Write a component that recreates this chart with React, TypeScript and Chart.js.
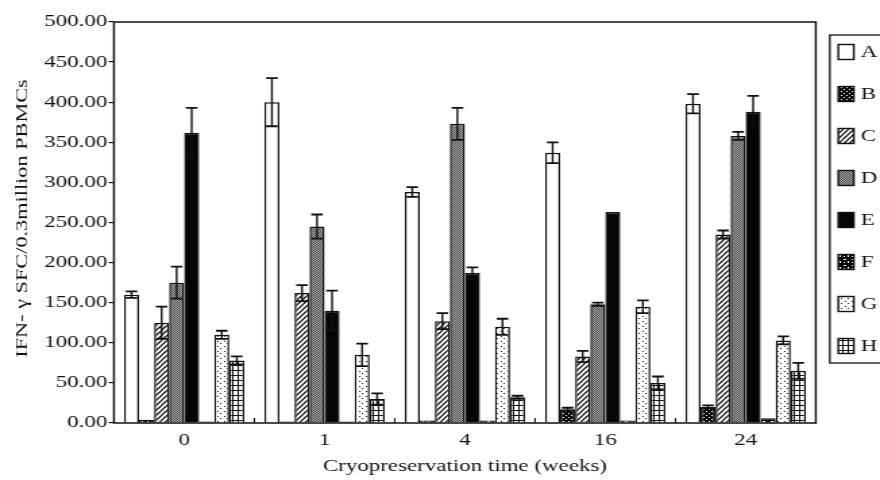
import React, { useEffect, useRef } from 'react';
import { Chart, registerables } from 'chart.js';

Chart.register(...registerables);

// ---------- data ----------
const categories = ['0', '1', '4', '16', '24'];
const seriesNames = ['A', 'B', 'C', 'D', 'E', 'F', 'G', 'H'];

const valuesA = [160, 400, 288, 337, 398];
const valuesB = [4, 2, 3, 17, 20];
const valuesC = [125, 162, 127, 83, 235];
const valuesD = [175, 245, 373, 148, 358];
const valuesE = [362, 140, 187, 263, 388];
const valuesF = [2, 2, 3, 3, 6];
const valuesG = [110, 85, 120, 145, 103];
const valuesH = [78, 30, 32, 50, 65];

const errorsA = [4, 30, 6, 13, 12];
const errorsB = [0, 0, 0, 2, 2];
const errorsC = [20, 10, 10, 7, 5];
const errorsD = [20, 15, 20, 2, 5];
const errorsE = [31, 25, 7, 0, 20];
const errorsF = [0, 0, 0, 0, 0];
const errorsG = [5, 14, 10, 8, 5];
const errorsH = [5, 7, 2, 8, 10];

const yMin = 0;
const yMax = 500;
const yStep = 50;

const xTitle = 'Cryopreservation time (weeks)';
const yTitle = 'IFN- γ SFC/0.3million PBMCs';

// ---------- layout (the reference uses a horizontally wide font) ----------
const STRETCH = 1.35;
const OUT_W = 880;
const OUT_H = 480;
const CW = Math.round(OUT_W / STRETCH);
const FONT = '"Liberation Serif", "Times New Roman", serif';
const INK = '#111';

function tile(w: number, h: number, draw: (c: CanvasRenderingContext2D) => void) {
  const cv = document.createElement('canvas');
  cv.width = w;
  cv.height = h;
  const c = cv.getContext('2d') as CanvasRenderingContext2D;
  draw(c);
  return (document.createElement('canvas').getContext('2d') as CanvasRenderingContext2D).createPattern(cv, 'repeat') as CanvasPattern;
}

function makeFills(): (string | CanvasPattern)[] {
  const A = '#ffffff';
  const B = tile(4, 4, (c) => {
    c.fillStyle = '#0a0a0a';
    c.fillRect(0, 0, 4, 4);
    c.fillStyle = '#ffffff';
    c.fillRect(1, 1, 1, 1);
    c.fillRect(3, 3, 1, 1);
  });
  const C = tile(4, 5, (c) => {
    c.fillStyle = '#ffffff';
    c.fillRect(0, 0, 4, 5);
    c.strokeStyle = '#000';
    c.lineWidth = 1.1;
    for (const dx of [-4, 0, 4]) {
      c.beginPath();
      c.moveTo(dx - 1, 5 + 1.25);
      c.lineTo(dx + 5, -1.25);
      c.stroke();
    }
  });
  const D = tile(2, 2, (c) => {
    c.fillStyle = '#b0b0b0';
    c.fillRect(0, 0, 2, 2);
    c.fillStyle = '#444';
    c.fillRect(0, 0, 1, 1);
    c.fillRect(1, 1, 1, 1);
  });
  const E = '#050505';
  const F = tile(6, 6, (c) => {
    c.fillStyle = '#050505';
    c.fillRect(0, 0, 6, 6);
    c.fillStyle = '#ffffff';
    c.fillRect(1, 1, 2, 1);
    c.fillRect(4, 3, 1, 2);
    c.fillRect(1, 4, 1, 1);
  });
  const G = tile(5, 5, (c) => {
    c.fillStyle = '#ffffff';
    c.fillRect(0, 0, 5, 5);
    c.fillStyle = '#222';
    c.fillRect(1, 1, 1, 1);
    c.fillRect(3, 3, 1, 1);
  });
  const H = tile(4, 5, (c) => {
    c.fillStyle = '#ffffff';
    c.fillRect(0, 0, 4, 5);
    c.fillStyle = '#111';
    c.fillRect(0, 0, 4, 1);
    c.fillRect(0, 0, 1, 5);
  });
  return [A, B, C, D, E, F, G, H];
}

const allValues = [valuesA, valuesB, valuesC, valuesD, valuesE, valuesF, valuesG, valuesH];
const allErrors = [errorsA, errorsB, errorsC, errorsD, errorsE, errorsF, errorsG, errorsH];

const framePlugin = {
  id: 'frameAndErrors',
  afterDatasetsDraw(chart: any) {
    const { ctx, chartArea, scales } = chart;
    const y = scales.y;
    const x = scales.x;
    ctx.save();
    // error bars
    ctx.strokeStyle = INK;
    chart.data.datasets.forEach((ds: any, di: number) => {
      const meta = chart.getDatasetMeta(di);
      const errs = allErrors[di];
      meta.data.forEach((bar: any, i: number) => {
        const e = errs[i];
        if (!e) return;
        const v = ds.data[i];
        const yt = y.getPixelForValue(v + e);
        const yb = y.getPixelForValue(Math.max(v - e, 0));
        const cx = bar.x;
        const hw = 4.3;
        ctx.lineWidth = 1.4;
        ctx.beginPath();
        ctx.moveTo(cx, yb);
        ctx.lineTo(cx, yt);
        ctx.stroke();
        ctx.lineWidth = 1.8;
        ctx.beginPath();
        ctx.moveTo(cx - hw, yt);
        ctx.lineTo(cx + hw, yt);
        ctx.moveTo(cx - hw, yb);
        ctx.lineTo(cx + hw, yb);
        ctx.stroke();
      });
    });
    // frame
    ctx.lineWidth = 1.5;
    ctx.strokeRect(chartArea.left, chartArea.top, chartArea.right - chartArea.left, chartArea.bottom - chartArea.top);
    // small ticks between categories
    ctx.lineWidth = 1.1;
    for (let i = 0; i < categories.length - 1; i++) {
      const bx = (x.getPixelForValue(i) + x.getPixelForValue(i + 1)) / 2;
      ctx.beginPath();
      ctx.moveTo(bx, chartArea.bottom);
      ctx.lineTo(bx, chartArea.bottom - 5);
      ctx.stroke();
    }
    ctx.restore();
  },
  afterDraw(chart: any) {
    const { ctx } = chart;
    // y axis title, in the same wide lettering as the rest of the text
    ctx.save();
    ctx.translate(22 / STRETCH, 218.5);
    ctx.scale(1 / STRETCH, STRETCH);
    ctx.rotate(-Math.PI / 2);
    ctx.font = `16.5px ${FONT}`;
    ctx.fillStyle = INK;
    ctx.textAlign = 'center';
    ctx.textBaseline = 'middle';
    ctx.fillText(yTitle, 0, 0);
    ctx.restore();

    // legend
    ctx.save();
    const left = 830 / STRETCH;
    const top = 35;
    const bottom = 363;
    ctx.strokeStyle = INK;
    ctx.lineWidth = 1.3;
    ctx.strokeRect(left, top, CW + 10 - left, bottom - top);
    const sx = 838.5 / STRETCH;
    const sw = 15.5 / STRETCH;
    const sh = 15;
    const tx = 861 / STRETCH;
    ctx.font = `17px ${FONT}`;
    ctx.textBaseline = 'middle';
    ctx.textAlign = 'left';
    chart.data.datasets.forEach((ds: any, i: number) => {
      const cy = 52 + i * 42;
      ctx.fillStyle = ds.backgroundColor;
      ctx.fillRect(sx, cy - sh / 2, sw, sh);
      ctx.lineWidth = 1.4;
      ctx.strokeRect(sx, cy - sh / 2, sw, sh);
      ctx.fillStyle = INK;
      ctx.fillText(ds.label, tx, cy + 1);
    });
    ctx.restore();
  },
};

export default function App() {
  const ref = useRef<HTMLCanvasElement | null>(null);

  useEffect(() => {
    if (!ref.current) return;
    const fills = makeFills();
    const chart = new Chart(ref.current, {
      type: 'bar',
      data: {
        labels: categories,
        datasets: seriesNames.map((name, i) => ({
          label: name,
          data: allValues[i],
          backgroundColor: fills[i] as any,
          borderColor: INK,
          borderWidth: 1.5,
          categoryPercentage: 0.857,
          barPercentage: 1.0,
        })),
      },
      options: {
        responsive: false,
        animation: false,
        events: [],
        layout: { padding: { left: 0, right: CW - 816 / STRETCH, top: 22, bottom: 0 } },
        plugins: {
          legend: { display: false },
          tooltip: { enabled: false },
        },
        scales: {
          x: {
            type: 'category',
            offset: true,
            grid: { display: false, drawTicks: false },
            border: { display: false },
            ticks: { color: INK, font: { family: FONT, size: 17 }, padding: 7, maxRotation: 0 },
            title: {
              display: true,
              text: xTitle,
              color: INK,
              font: { family: FONT, size: 17 },
              padding: { top: 0, bottom: 3 },
            },
            afterFit: (s: any) => {
              s.height = 57;
            },
          },
          y: {
            min: yMin,
            max: yMax,
            grid: { display: true, drawOnChartArea: false, drawTicks: true, tickLength: 4, color: INK, lineWidth: 1.2 },
            border: { display: false },
            ticks: {
              stepSize: yStep,
              color: INK,
              font: { family: FONT, size: 17 },
              padding: 1,
              callback: (v: any) => Number(v).toFixed(2),
            },
            title: { display: false, text: yTitle },
            afterFit: (s: any) => {
              s.width = 114 / STRETCH;
            },
          },
        },
      },
      plugins: [framePlugin],
    });
    return () => chart.destroy();
  }, []);

  return (
    <div style={{ position: 'absolute', left: 0, top: 0, width: OUT_W, height: OUT_H, background: '#fff' }}>
      <canvas
        ref={ref}
        width={CW}
        height={OUT_H}
        style={{ display: 'block', width: OUT_W + 'px', height: OUT_H + 'px' }}
      />
    </div>
  );
}
